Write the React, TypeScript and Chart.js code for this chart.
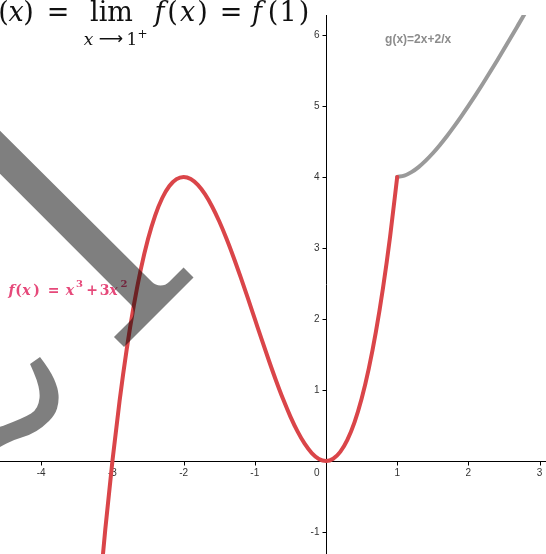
import { useEffect, useRef } from "react";
import { Chart, registerables } from "chart.js";

Chart.register(...registerables);

// f(x) = x^3 + 3x^2, sampled on [-3.2, 1]
const fX = [
  -3.2, -3.1, -3.0, -2.9, -2.8, -2.7, -2.6, -2.5, -2.4, -2.3, -2.2, -2.1, -2.0,
  -1.9, -1.8, -1.7, -1.6, -1.5, -1.4, -1.3, -1.2, -1.1, -1.0, -0.9, -0.8, -0.7,
  -0.6, -0.5, -0.4, -0.3, -0.2, -0.1, 0.0, 0.1, 0.2, 0.3, 0.4, 0.5, 0.6, 0.7,
  0.8, 0.9, 1.0,
];
const fY = [
  -2.048, -0.961, 0, 0.841, 1.568, 2.187, 2.704, 3.125, 3.456, 3.703, 3.872,
  3.969, 4, 3.971, 3.888, 3.757, 3.584, 3.375, 3.136, 2.873, 2.592, 2.299, 2,
  1.701, 1.408, 1.127, 0.864, 0.625, 0.416, 0.243, 0.112, 0.029, 0, 0.031,
  0.128, 0.297, 0.544, 0.875, 1.296, 1.813, 2.432, 3.159, 4,
];

// g(x) = 2x + 2/x, sampled on [1, 2.8]
const gX = [
  1.0, 1.1, 1.2, 1.3, 1.4, 1.5, 1.6, 1.7, 1.8, 1.9, 2.0, 2.1, 2.2, 2.3, 2.4,
  2.5, 2.6, 2.7, 2.8,
];
const gY = [
  4, 4.018, 4.067, 4.138, 4.229, 4.333, 4.45, 4.576, 4.711, 4.853, 5, 5.152,
  5.309, 5.47, 5.633, 5.8, 5.969, 6.141, 6.314,
];

const xTicks = [-4, -3, -2, -1, 1, 2, 3];
const yTicks = [-1, 1, 2, 3, 4, 5, 6];

const X_MIN = -4.579;
const X_MAX = 3.09;
const Y_MIN = -1.31;
const Y_MAX = 6.28;

// Pointer overlay outline (in graph units)
const pointerOutline: [number, number][] = [
  [-5.42, 5.49],
  [-2.324, 2.401],
  [-2.001, 2.725],
  [-1.861, 2.585],
  [-2.837, 1.606],
  [-2.978, 1.746],
  [-2.633, 2.092],
  [-5.42, 4.887],
];
const pointerRounded = [1, 6];

// Curled stroke overlay (in graph units): outer edge then inner edge
const curlOuter: [number, number][] = [
  [-4.017, 1.465], [-3.876, 1.282], [-3.764, 1.028], [-3.75, 0.831],
  [-3.806, 0.648], [-3.975, 0.479], [-4.157, 0.366], [-4.396, 0.296],
  [-4.579, 0.197], [-4.72, 0.127],
];
const curlInner: [number, number][] = [
  [-4.72, 0.437], [-4.579, 0.479], [-4.396, 0.549], [-4.199, 0.634],
  [-4.087, 0.704], [-4.031, 0.817], [-4.017, 0.958], [-4.059, 1.141],
  [-4.157, 1.366],
];

const RED = "#da4549";
const GREY = "#9a9a9a";
const PINK = "#e6497a";
const SERIF = "'DejaVu Serif', 'Liberation Serif', serif";

function smoothEdge(ctx: CanvasRenderingContext2D, pts: { x: number; y: number }[], first: boolean) {
  if (first) ctx.moveTo(pts[0].x, pts[0].y);
  else ctx.lineTo(pts[0].x, pts[0].y);
  for (let i = 1; i < pts.length - 1; i++) {
    const mx = (pts[i].x + pts[i + 1].x) / 2;
    const my = (pts[i].y + pts[i + 1].y) / 2;
    ctx.quadraticCurveTo(pts[i].x, pts[i].y, mx, my);
  }
  const last = pts[pts.length - 1];
  ctx.lineTo(last.x, last.y);
}

const decor = {
  id: "decor",
  beforeDatasetsDraw(chart: any) {
    const { ctx, chartArea, scales } = chart;
    const sx = scales.x;
    const sy = scales.y;
    const ox = Math.round(sx.getPixelForValue(0)) + 0.5;
    const oy = Math.round(sy.getPixelForValue(0)) + 0.5;
    ctx.save();
    ctx.strokeStyle = "#000";
    ctx.lineWidth = 1;
    ctx.beginPath();
    ctx.moveTo(chartArea.left, oy);
    ctx.lineTo(chartArea.right, oy);
    ctx.moveTo(ox, chartArea.top);
    ctx.lineTo(ox, chartArea.bottom);
    // tick marks
    xTicks.forEach((v) => {
      const p = Math.round(sx.getPixelForValue(v)) + 0.5;
      ctx.moveTo(p, oy);
      ctx.lineTo(p, oy + 4);
    });
    yTicks.forEach((v) => {
      const p = Math.round(sy.getPixelForValue(v)) + 0.5;
      ctx.moveTo(ox - 4, p);
      ctx.lineTo(ox, p);
    });
    ctx.stroke();

    ctx.fillStyle = "#333";
    ctx.font = "10px 'Liberation Sans', Arial, sans-serif";
    ctx.textAlign = "center";
    ctx.textBaseline = "middle";
    xTicks.forEach((v) => {
      ctx.fillText(String(v), sx.getPixelForValue(v), oy + 12);
    });
    ctx.textAlign = "right";
    yTicks.forEach((v) => {
      ctx.fillText(String(v), ox - 7, sy.getPixelForValue(v));
    });
    ctx.fillText("0", ox - 7, oy + 12);
    ctx.restore();
  },
  afterDatasetsDraw(chart: any) {
    const { ctx, scales } = chart;
    const sx = scales.x;
    const sy = scales.y;
    const P = (p: [number, number]) => ({ x: sx.getPixelForValue(p[0]), y: sy.getPixelForValue(p[1]) });

    ctx.save();
    // function label f(x) = x^3 + 3x^2 (glyphs placed by their centres)
    ctx.fillStyle = PINK;
    ctx.textBaseline = "alphabetic";
    ctx.textAlign = "center";
    const lx = sx.getPixelForValue(-4.579);
    const ly = sy.getPixelForValue(2.335);
    const big = `italic bold 14px ${SERIF}`;
    const bigUp = `bold 14px ${SERIF}`;
    const sup = `bold 10px ${SERIF}`;
    const pieces: [string, string, number, number][] = [
      ["f", big, 11.5, 0],
      ["(", bigUp, 18.5, 0],
      ["x", big, 26.5, 0],
      [")", bigUp, 36.5, 0],
      ["=", bigUp, 53.5, 0],
      ["x", big, 70, 0],
      ["3", sup, 79.5, -8],
      ["+", bigUp, 92, 0],
      ["3", bigUp, 104.5, 0],
      ["x", big, 113.5, 0],
      ["2", sup, 124, -8],
    ];
    pieces.forEach(([t, f, dx, dy]) => {
      ctx.font = f;
      ctx.fillText(t, lx + dx, ly + dy);
    });

    // g(x) label
    ctx.textAlign = "left";
    ctx.fillStyle = "#8c8c8c";
    ctx.font = "bold 12px 'Liberation Sans', Arial, sans-serif";
    ctx.textBaseline = "middle";
    ctx.fillText("g(x)=2x+2/x", sx.getPixelForValue(0.83), sy.getPixelForValue(5.93));

    // translucent pointer overlay
    ctx.fillStyle = "rgba(0,0,0,0.5)";
    const pts = pointerOutline.map(P);
    ctx.beginPath();
    ctx.moveTo(pts[0].x, pts[0].y);
    for (let i = 1; i < pts.length; i++) {
      if (pointerRounded.includes(i)) {
        const nx = pts[(i + 1) % pts.length];
        ctx.arcTo(pts[i].x, pts[i].y, nx.x, nx.y, 12);
      } else {
        ctx.lineTo(pts[i].x, pts[i].y);
      }
    }
    ctx.closePath();
    ctx.fill();

    // curled stroke overlay
    ctx.beginPath();
    smoothEdge(ctx, curlOuter.map(P), true);
    smoothEdge(ctx, curlInner.map(P), false);
    ctx.closePath();
    ctx.fill();

    // heading formula (glyphs placed by their centres)
    ctx.fillStyle = "#111";
    ctx.textBaseline = "alphabetic";
    ctx.textAlign = "center";
    const up = `27px ${SERIF}`;
    const it = `italic 27px ${SERIF}`;
    const head: [string, string, number][] = [
      ["(", up, 3.5],
      ["x", it, 16],
      [")", up, 28.5],
      ["=", up, 58],
      ["lim", up, 111.5],
      ["f", it, 159.5],
      ["(", up, 172.5],
      ["x", it, 187.5],
      [")", up, 202.5],
      ["=", up, 231],
      ["f", it, 257],
      ["(", up, 273],
      ["1", up, 288],
      [")", up, 304],
    ];
    head.forEach(([t, f, x]) => {
      ctx.font = f;
      ctx.fillText(t, x, 21);
    });
    ctx.font = `italic 17px ${SERIF}`;
    ctx.fillText("x", 88.5, 45);
    ctx.font = "17px 'DejaVu Sans', sans-serif";
    ctx.fillText("\u27F6", 111, 44);
    ctx.font = `17px ${SERIF}`;
    ctx.fillText("1", 132, 45);
    ctx.font = `12px ${SERIF}`;
    ctx.fillText("+", 142.5, 38);
    ctx.restore();
  },
};

export default function App() {
  const ref = useRef<HTMLCanvasElement | null>(null);

  useEffect(() => {
    if (!ref.current) return;
    const chart = new Chart(ref.current, {
      type: "scatter",
      data: {
        datasets: [
          {
            label: "f",
            data: fX.map((x, i) => ({ x, y: fY[i] })),
            showLine: true,
            borderColor: RED,
            borderWidth: 4,
            pointRadius: 0,
            cubicInterpolationMode: "monotone",
            borderCapStyle: "round",
            borderJoinStyle: "round",
            clip: 0,
          } as any,
          {
            label: "g",
            data: gX.map((x, i) => ({ x, y: gY[i] })),
            showLine: true,
            borderColor: GREY,
            borderWidth: 4,
            pointRadius: 0,
            cubicInterpolationMode: "monotone",
            borderCapStyle: "round",
            borderJoinStyle: "round",
            clip: 0,
          } as any,
        ],
      },
      options: {
        responsive: false,
        animation: false,
        layout: { padding: { top: 15, left: 0, right: 0, bottom: 0 } },
        scales: {
          x: { type: "linear", min: X_MIN, max: X_MAX, display: false },
          y: { type: "linear", min: Y_MIN, max: Y_MAX, display: false },
        },
        plugins: { legend: { display: false }, tooltip: { enabled: false } },
        events: [],
      },
      plugins: [decor],
    });
    return () => chart.destroy();
  }, []);

  return (
    <div style={{ position: "absolute", left: 0, top: 0, width: 546, height: 554, background: "#fff" }}>
      <canvas ref={ref} width={546} height={554} style={{ display: "block" }} />
    </div>
  );
}
